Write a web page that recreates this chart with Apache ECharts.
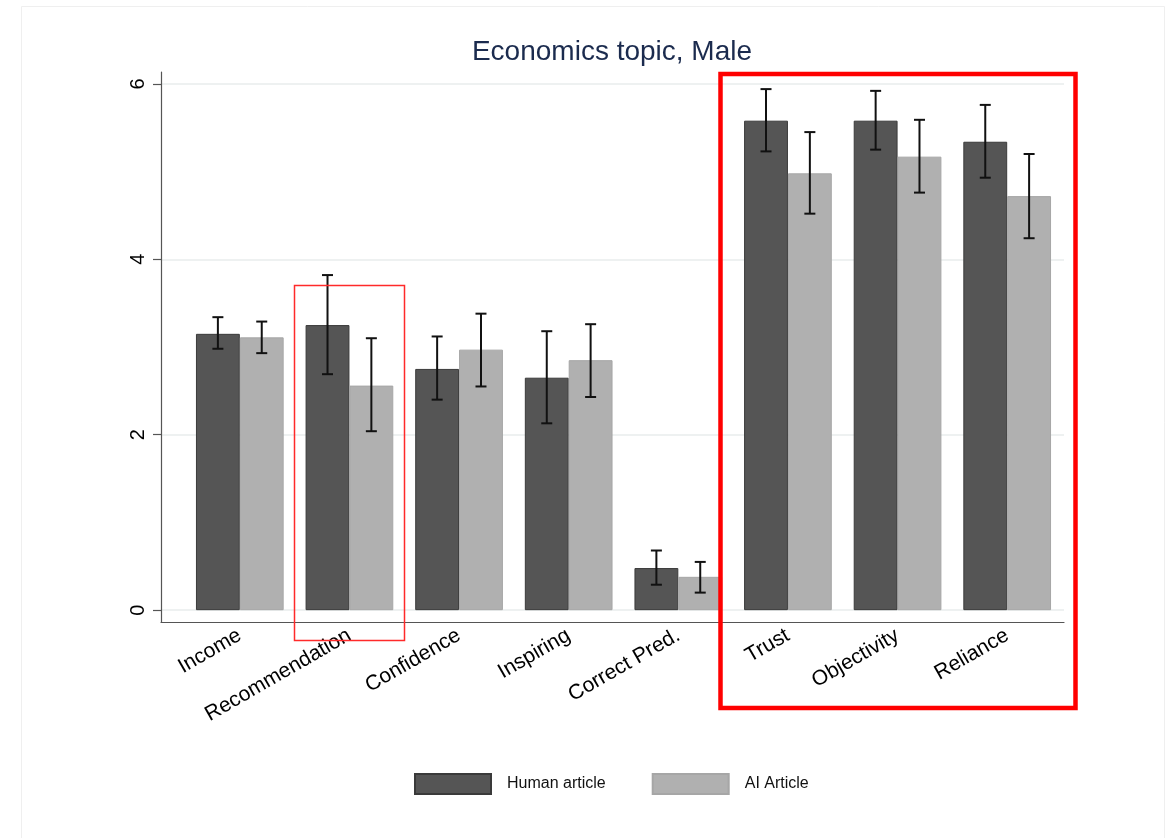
<!DOCTYPE html>
<html>
<head>
<meta charset="utf-8">
<script src="https://cdn.jsdelivr.net/npm/echarts@6/dist/echarts.min.js"></script>
<style>
  html, body { margin: 0; padding: 0; background: #fff; }
  #chart { width: 1172px; height: 838px; }
</style>
</head>
<body>
<div id="chart"></div>
<script>
// Mean ratings with 95% confidence intervals, economics topic, male respondents
const categories = ['Income', 'Recommendation', 'Confidence', 'Inspiring', 'Correct Pred.', 'Trust', 'Objectivity', 'Reliance'];
const seriesNames = ['Human article', 'AI Article'];

const humanMean = [3.15, 3.25, 2.75, 2.65, 0.48, 5.58, 5.58, 5.34];
const humanLow  = [2.98, 2.69, 2.40, 2.13, 0.29, 5.23, 5.25, 4.93];
const humanHigh = [3.34, 3.82, 3.12, 3.18, 0.68, 5.94, 5.92, 5.76];

const aiMean = [3.11, 2.56, 2.97, 2.85, 0.38, 4.98, 5.17, 4.72];
const aiLow  = [2.93, 2.04, 2.55, 2.43, 0.20, 4.52, 4.76, 4.24];
const aiHigh = [3.29, 3.10, 3.38, 3.26, 0.55, 5.45, 5.59, 5.20];

const yTicks = [0, 2, 4, 6];

const FONT = "'Liberation Sans', Arial, Helvetica, sans-serif";
const Y_MIN = -0.135, Y_MAX = 6.135;

// Capped whiskers, shifted to the centre of the matching bar in each group
function errorBars(lows, highs, side) {
  return {
    type: 'custom',
    xAxisIndex: 0,
    yAxisIndex: 0,
    silent: true,
    z: 5,
    data: categories.map((c, i) => [i, lows[i], highs[i]]),
    encode: { x: 0, y: [1, 2] },
    renderItem(params, api) {
      const i = api.value(0);
      const lo = api.coord([i, api.value(1)]);
      const hi = api.coord([i, api.value(2)]);
      const band = api.size([1, 0])[0];
      const x = lo[0] + side * band * 0.2;
      const cap = 5.5;
      const style = { stroke: '#111', lineWidth: 2 };
      return {
        type: 'group',
        children: [
          { type: 'line', shape: { x1: x, y1: hi[1], x2: x, y2: lo[1] }, style },
          { type: 'line', shape: { x1: x - cap, y1: hi[1], x2: x + cap, y2: hi[1] }, style },
          { type: 'line', shape: { x1: x - cap, y1: lo[1], x2: x + cap, y2: lo[1] }, style }
        ]
      };
    }
  };
}

const chart = echarts.init(document.getElementById('chart'), null, { renderer: 'canvas' });

chart.setOption({
  backgroundColor: '#fff',
  animation: false,
  title: {
    text: 'Economics topic, Male',
    left: 607,
    top: 33,
    textAlign: 'center',
    textStyle: { fontFamily: FONT, fontSize: 28, fontWeight: 'normal', color: '#1b2b4e' }
  },
  legend: {
    data: seriesNames,
    left: 409,
    top: 768,
    itemWidth: 76,
    itemHeight: 20,
    itemGap: 46,
    icon: 'rect',
    textStyle: { fontFamily: FONT, fontSize: 16, color: '#111', padding: [0, 0, 0, 11] }
  },
  grid: [
    { left: 185, right: 110, top: 72, bottom: 216 },
    { left: 161, right: 108, top: 72, bottom: 216 }
  ],
  xAxis: [
    {
      type: 'category',
      gridIndex: 0,
      data: categories,
      axisLine: { show: false },
      axisTick: { show: false },
      axisLabel: { interval: 0, rotate: 30, margin: 12, fontFamily: FONT, fontSize: 21, color: '#000' }
    },
    {
      type: 'value',
      gridIndex: 1,
      min: 0,
      max: 1,
      axisLine: { show: true, onZero: false, lineStyle: { color: '#555', width: 1.2 } },
      axisTick: { show: false },
      axisLabel: { show: false },
      splitLine: { show: false }
    }
  ],
  yAxis: [
    {
      type: 'value',
      gridIndex: 0,
      min: Y_MIN,
      max: Y_MAX,
      show: false
    },
    {
      type: 'value',
      gridIndex: 1,
      min: Y_MIN,
      max: Y_MAX,
      axisLine: { show: true, lineStyle: { color: '#555', width: 1.2 } },
      axisTick: { show: true, customValues: yTicks, length: 8, lineStyle: { color: '#555', width: 1.2 } },
      axisLabel: { customValues: yTicks, rotate: 90, margin: 13, fontFamily: FONT, fontSize: 20, color: '#000' },
      splitLine: { show: true, lineStyle: { color: '#e8eded', width: 1.5 } }
    }
  ],
  series: [
    {
      name: seriesNames[0],
      type: 'bar',
      xAxisIndex: 0,
      yAxisIndex: 0,
      data: humanMean,
      barGap: '0%',
      barCategoryGap: '20%',
      itemStyle: { color: '#555555', borderColor: '#3a3a3a', borderWidth: 1 }
    },
    {
      name: seriesNames[1],
      type: 'bar',
      xAxisIndex: 0,
      yAxisIndex: 0,
      data: aiMean,
      barGap: '0%',
      barCategoryGap: '20%',
      itemStyle: { color: '#b0b0b0', borderColor: '#a6a6a6', borderWidth: 1 }
    },
    errorBars(humanLow, humanHigh, -1),
    errorBars(aiLow, aiHigh, 1)
  ],
  graphic: [
    // faint outer frame
    { type: 'rect', z: 100, silent: true, shape: { x: 21.5, y: 6.5, width: 1143, height: 840 },
      style: { fill: 'none', stroke: '#efefef', lineWidth: 1 } },
    // highlight around Recommendation
    { type: 'rect', z: 100, silent: true, shape: { x: 294.5, y: 285.5, width: 110, height: 355 },
      style: { fill: 'none', stroke: '#ff2a2a', lineWidth: 1.5 } },
    // highlight around Trust / Objectivity / Reliance
    { type: 'rect', z: 100, silent: true, shape: { x: 720.5, y: 74, width: 355, height: 634 },
      style: { fill: 'none', stroke: '#ff0000', lineWidth: 4.5 } }
  ]
});
</script>
</body>
</html>
